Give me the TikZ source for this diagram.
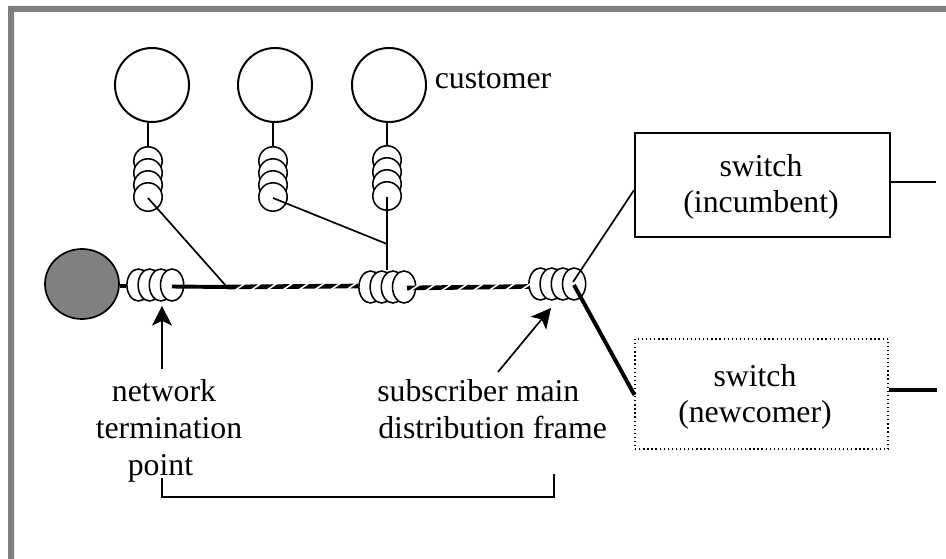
\documentclass[tikz,border=0pt]{standalone}
\usepackage{fontspec}
\setmainfont{Liberation Serif}
\usetikzlibrary{arrows.meta}
\usetikzlibrary{positioning}
\usetikzlibrary{shapes.geometric}
\usetikzlibrary{calc}
\tikzset{
  customer/.style={draw,circle,line width=1.4pt,minimum size=18.5mm,inner sep=0pt},
  coil/.style={draw,circle,fill=white,line width=1.1pt,minimum size=7.1mm,inner sep=0pt},
  pin/.style={draw,ellipse,fill=white,line width=1.1pt,minimum width=5.8mm,minimum height=8mm,inner sep=0pt},
  wire/.style={line width=1.2pt},
  heavy/.style={line width=2.8pt},
  twisted/.style={line width=3.3pt},
  label/.style={inner sep=0pt,align=center,font=\fontsize{22.6}{26}\selectfont},
  pointer/.style={line width=1.2pt,-{Stealth[length=4.9mm,width=5mm,inset=1.2mm]}},
  slash/.style={white,line width=1.1pt}
}
\begin{document}
\begin{tikzpicture}[x=0.25mm,y=-0.25mm]
  \useasboundingbox (0,0) rectangle (946,559);
  % frame
  \fill[black!50] (8,559) -- (8,6) -- (946,6) -- (946,12) -- (14,12) -- (14,559) -- cycle;
  % customers with their coils
  \foreach \n/\cx/\x/\y in {1/152/148/161,2/275/273/161,3/389/387/160}{
    \node[customer] (cust\n) at (\cx,85) {};
    \foreach \k in {0,1,2,3}
      \node[coil] (coil\n\k) at (\x,\y+12*\k) {};
    \coordinate (top\n) at (\x,\y-14);
    \coordinate (drop\n) at (\x,\y+37);
    \draw[wire] (cust\n.south -| top\n) -- (top\n);
  }
  % line
  \node[draw,ellipse,fill=black!50,line width=1.2pt,minimum width=18.5mm,minimum height=17.5mm,inner sep=0pt] (ntp) at (82,284) {};
  \foreach \n/\x/\y in {a/138.5/285,b/370.5/287,c/540.5/284}{
    \foreach \k in {0,1,2,3}
      \node[pin] (pin\n\k) at (\x+11.2*\k,\y) {};
  }
  \coordinate (joint) at (227,287);
  \coordinate (tap) at (387,244);
  \coordinate (bend) at (387,270);
  \coordinate (mid) at (358,286);
  \coordinate (midout) at (407,288);
  \coordinate (mdf) at (530,286.5);
  \draw[heavy] (ntp.east |- 0,286) -- (pina0.west |- 0,286);
  \draw[heavy] (172,286.5) -- (joint);
  \draw[wire] (drop1) -- (joint);
  \draw[wire] (drop2) -- (tap);
  \draw[wire] (drop3) -- (bend);
  \draw[twisted] (joint) -- (mid);
  \draw[twisted] (midout) -- (mdf);
  \foreach \t in {0.10,0.222,...,0.98}
    \draw[slash] ($(joint)!\t!(mid)$) +(-4.5,3) -- +(4.5,-3);
  \foreach \t in {0.06,0.19,...,0.98}
    \draw[slash] ($(midout)!\t!(mdf)$) +(-4.5,3) -- +(4.5,-3);
  % switches
  \node[draw,line width=1.4pt,minimum width=63.7mm,minimum height=26mm] (incumbent) at (762.5,185) {};
  \node[label] (incumbentText) at (761,187) {switch\\(incumbent)};
  \node[draw,dotted,line width=0.9pt,minimum width=63.2mm,minimum height=27.5mm] (newcomer) at (761.5,394) {};
  \node[label] (newcomerText) at (755,397) {switch\\(newcomer)};
  \coordinate (incumbentOut) at (936,182);
  \coordinate (newcomerOut) at (937,390);
  \coordinate (mdfA) at (573,282);
  \coordinate (mdfB) at (574,285);
  \draw[wire] (mdfA) -- (incumbent.west |- 0,190);
  \draw[wire] (incumbent.east |- incumbentOut) -- (incumbentOut);
  \draw[heavy] (mdfB) -- (newcomer.west |- 0,395);
  \draw[line width=2.6pt] (newcomer.east |- newcomerOut) -- (newcomerOut);
  % labels
  \node[label] (customerText) at (493,80) {customer};
  \node[label,anchor=base] (networkText) at (164,401) {network};
  \node[label,anchor=base] (terminationText) at (169,438) {termination};
  \node[label,anchor=base] (pointText) at (160.5,475) {point};
  \node[label,anchor=base west] (subscriberText) at (377,401) {subscriber main};
  \node[label,anchor=base west] (frameText) at (378,438) {distribution frame};
  \coordinate (ntpTail) at (162,369);
  \coordinate (ntpTip) at (162,306);
  \coordinate (mdfTail) at (498,372);
  \coordinate (mdfTip) at (551,308);
  \draw[pointer] (ntpTail) -- (ntpTip);
  \draw[pointer] (mdfTail) -- (mdfTip);
  % bracket
  \coordinate (spanA) at (162,478);
  \coordinate (spanB) at (554,474);
  \draw[wire] (spanA) |- (554,497) -- (spanB);
\end{tikzpicture}
\end{document}
